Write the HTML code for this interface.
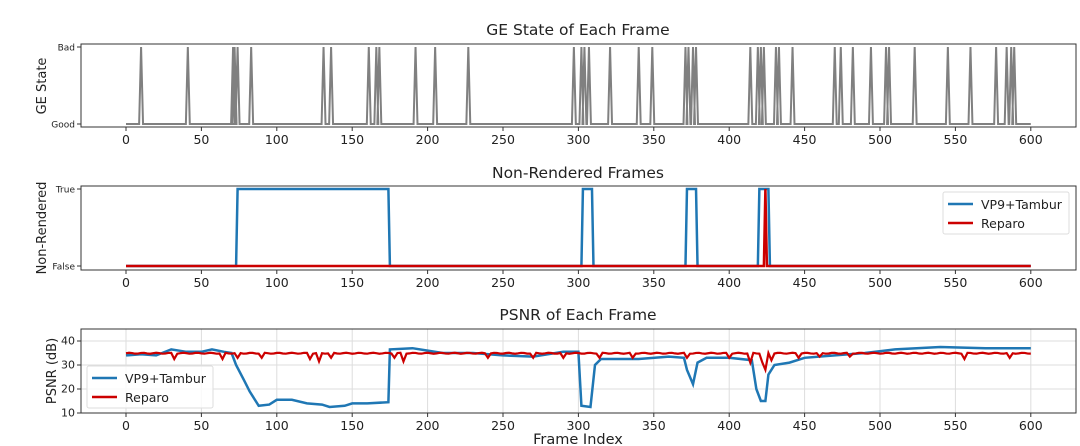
<!DOCTYPE html>
<html><head><meta charset="utf-8"><style>
html,body{margin:0;padding:0;background:#fff;}
svg{display:block;font-family:"DejaVu Sans","Liberation Sans",sans-serif;}
</style></head><body>
<svg id="s" width="1080" height="446" viewBox="0 0 1080 446" xmlns="http://www.w3.org/2000/svg">
<text x="578" y="35" font-size="15.5" text-anchor="middle" fill="#222">GE State of Each Frame</text>
<text x="578" y="178" font-size="15.5" text-anchor="middle" fill="#222">Non-Rendered Frames</text>
<text x="578" y="320" font-size="15.5" text-anchor="middle" fill="#222">PSNR of Each Frame</text>
<text x="578" y="444" font-size="14.5" text-anchor="middle" fill="#222">Frame Index</text>
<text transform="translate(46,86) rotate(-90)" font-size="13" text-anchor="middle" fill="#222">GE State</text>
<text transform="translate(46,228) rotate(-90)" font-size="13" text-anchor="middle" fill="#222">Non-Rendered</text>
<text transform="translate(56,371) rotate(-90)" font-size="13" text-anchor="middle" fill="#222">PSNR (dB)</text>
<g id="g"></g>
</svg>
<script>
var NS="http://www.w3.org/2000/svg",g=document.getElementById("g");
function el(t,a,txt){var e=document.createElementNS(NS,t);for(var k in a)e.setAttribute(k,a[k]);if(txt!==undefined)e.textContent=txt;g.appendChild(e);return e;}
function X(f){return 126+f*1.508;}
var L=81,R=1076;
var axes=[[44,127],[186,270],[329,413]];
for(var t=0;t<=600;t+=50)el("line",{x1:X(t),x2:X(t),y1:329,y2:413,stroke:"#ddd","stroke-width":1});
[10,20,30,40].forEach(function(v){var y=413-(v-10)*2.4;el("line",{x1:L,x2:R,y1:y,y2:y,stroke:"#ddd","stroke-width":1});});
var sp=[10,41,71,72,74,83,131,136,161,166,168,192,205,227,297,302,304,307,321,340,349,371,373,376,378,414,419,421,423,431,433,442,470,474,482,494,504,506,523,545,560,577,584,587,589];
var yb=124,yt=47,p=[[0,yb]];
sp.forEach(function(f){p.push([f-1.3,yb],[f,yt],[f+1.3,yb]);});p.push([600,yb]);
el("polyline",{points:p.map(function(q){return X(q[0])+","+q[1]}).join(" "),fill:"none",stroke:"#808080","stroke-width":2});
var T=189,F=266;
function seg(a){var r=[[0,F]];a.forEach(function(s){r.push([s[0],F],[s[0]+1,T],[s[1]-1,T],[s[1],F]);});r.push([600,F]);return r;}
var pb=seg([[73,175],[302,310],[371,379],[419,427]]);
el("polyline",{points:pb.map(function(q){return X(q[0])+","+q[1]}).join(" "),fill:"none",stroke:"#1f77b4","stroke-width":2.5});
var pr=[[0,F],[423,F],[424,T],[425,F],[600,F]];
el("polyline",{points:pr.map(function(q){return X(q[0])+","+q[1]}).join(" "),fill:"none",stroke:"#cc0000","stroke-width":2.5});
function Y(v){return 413-(v-10)*2.4;}
var bl=[[0,34],[10,34.5],[20,34],[30,36.5],[40,35.5],[50,35.5],[57,36.5],[65,35.5],[70,35],[73,30],[78,24],[82,19],[88,13],[95,13.5],[100,15.5],[110,15.5],[120,14],[130,13.5],[135,12.5],[145,13],[150,14],[160,14],[174,14.5],[175,36.5],[190,37],[200,36],[210,35],[230,35],[250,34],[270,33.5],[290,35.5],[300,35.5],[302,13],[308,12.5],[311,30],[315,32.5],[340,32.5],[360,33.5],[370,33],[372,28],[376,22],[379,31],[385,33],[400,33],[415,32],[418,20],[421,15],[424,15],[426,26],[430,30],[440,31],[450,33],[470,34],[490,35],[510,36.5],[540,37.5],[570,37],[600,37]];
el("polyline",{points:bl.map(function(q){return X(q[0])+","+Y(q[1])}).join(" "),fill:"none",stroke:"#1f77b4","stroke-width":2.5});
var dips={32:32.5,63:32.5,74:33,90:33,122:32.5,127:31.5,135:33,178:33,183:31.5,240:33,270:33,290:33,313:33,335:33,372:33,400:33,414:31,421:31,424:28,428:32,445:33,460:33.5,480:33.5,555:32.5,585:33};
var rl=[];for(var f=0;f<=600;f+=2){var v=34.9+0.2*Math.sin(f*0.7);if(dips[f]!==undefined)v=dips[f];else if(dips[f-1]!==undefined)v=dips[f-1];rl.push(X(f)+","+Y(v));}
el("polyline",{points:rl.join(" "),fill:"none",stroke:"#cc0000","stroke-width":2.2});
axes.forEach(function(a,i){
 el("rect",{x:L,y:a[0],width:R-L,height:a[1]-a[0],fill:"none",stroke:"#333","stroke-width":1});
 for(var t=0;t<=600;t+=50){el("line",{x1:X(t),x2:X(t),y1:a[1],y2:a[1]+4,stroke:"#333"});el("text",{x:X(t),y:a[1]+17,"font-size":12.5,"text-anchor":"middle",fill:"#222"},String(t));}
});
function yt2(y,s,fs){el("line",{x1:L-4,x2:L,y1:y,y2:y,stroke:"#333"});el("text",{x:L-6,y:y+3.5,"font-size":fs,"text-anchor":"end",fill:"#222"},s);}
yt2(47,"Bad",9);yt2(124,"Good",9);yt2(189,"True",9);yt2(266,"False",9);
[10,20,30,40].forEach(function(v){yt2(Y(v),String(v),11);});
function leg(x,y,w){el("rect",{x:x,y:y,width:w,height:42,fill:"#fff","fill-opacity":0.85,stroke:"#ddd",rx:2});
 el("line",{x1:x+5,x2:x+30,y1:y+12,y2:y+12,stroke:"#1f77b4","stroke-width":2.5});el("text",{x:x+38,y:y+17,"font-size":12.5,fill:"#222"},"VP9+Tambur");
 el("line",{x1:x+5,x2:x+30,y1:y+31,y2:y+31,stroke:"#cc0000","stroke-width":2.5});el("text",{x:x+38,y:y+36,"font-size":12.5,fill:"#222"},"Reparo");}
leg(943,192,126);leg(87,366,126);
</script>
</body></html>
